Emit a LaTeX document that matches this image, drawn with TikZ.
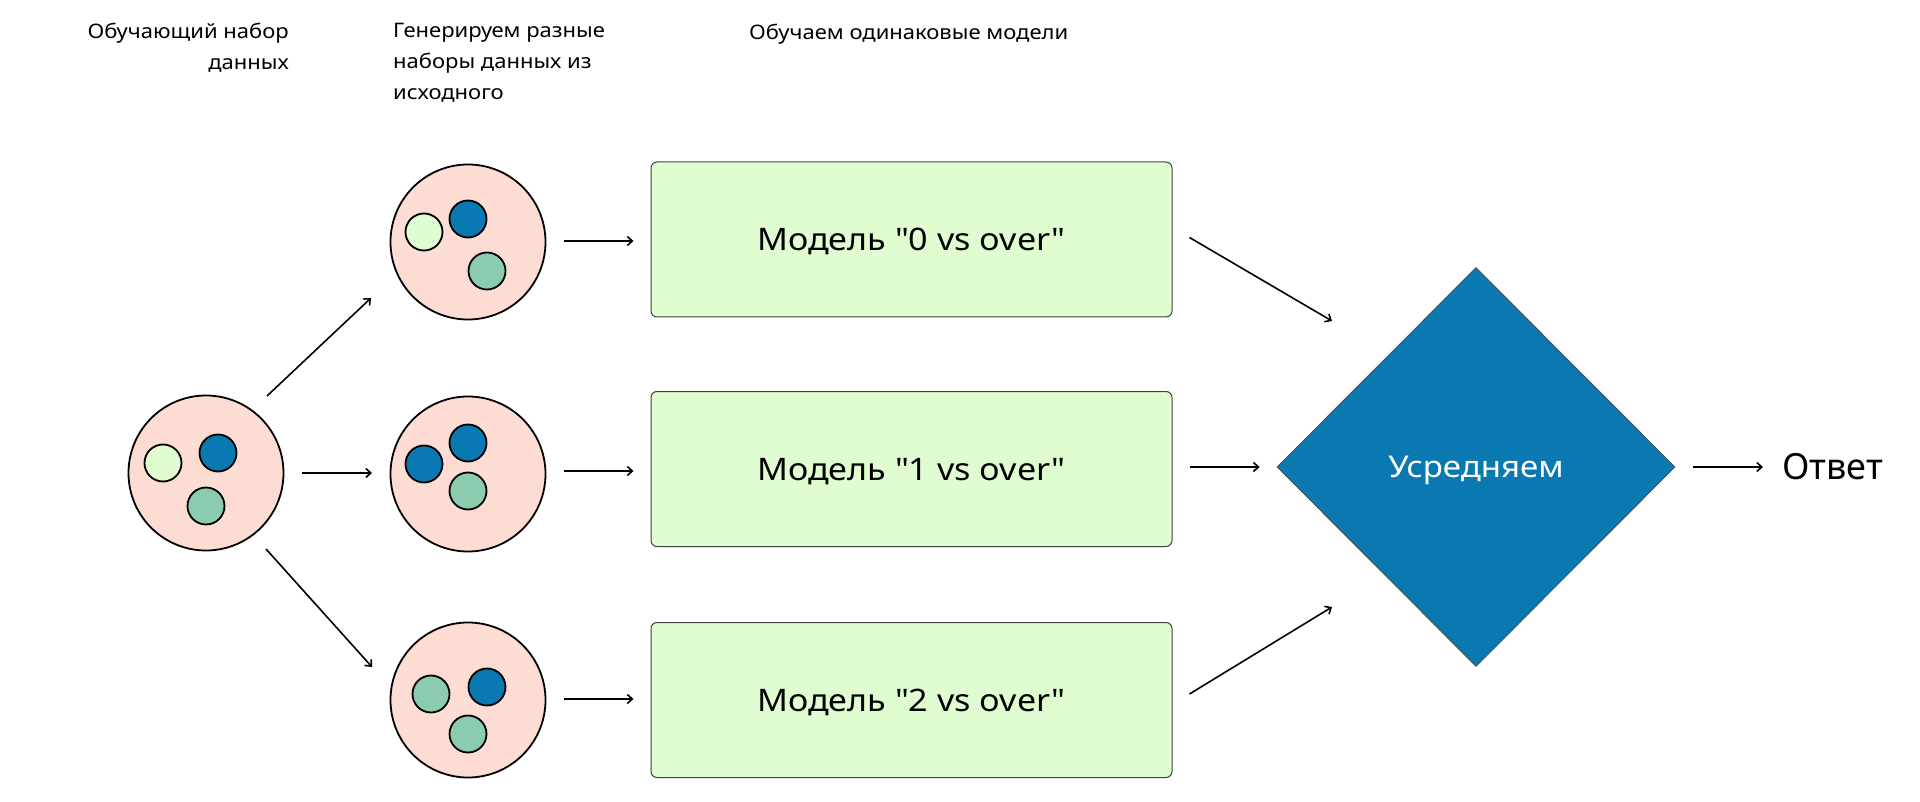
\documentclass[tikz,border=0pt]{standalone}
\usepackage{fontspec}
\setmainfont{Noto Sans}[Ligatures=TeXOff, FakeStretch=1.1]
\newfontfamily\plainfont{Noto Sans}[Ligatures=TeXOff]
\usetikzlibrary{shapes.geometric,arrows.meta}
\definecolor{pinkfill}{HTML}{FDDCD3}
\definecolor{lightdot}{HTML}{DFFDD1}
\definecolor{bluedot}{HTML}{0A79B1}
\definecolor{tealdot}{HTML}{8BCCB0}
\definecolor{boxgreen}{HTML}{DFFDD0}
\definecolor{diablue}{HTML}{0A79B1}
\tikzset{
  bigset/.style={circle, draw=black, line width=1.8pt, fill=pinkfill, minimum size=155pt, inner sep=0pt},
  dotL/.style={circle, draw=black, line width=1.8pt, fill=lightdot, minimum size=37pt, inner sep=0pt},
  dotB/.style={circle, draw=black, line width=1.8pt, fill=bluedot, minimum size=37pt, inner sep=0pt},
  dotT/.style={circle, draw=black, line width=1.8pt, fill=tealdot, minimum size=37pt, inner sep=0pt},
  modelbox/.style={rectangle, rounded corners=6pt, draw=black!75, line width=1pt, fill=boxgreen,
    minimum width=521pt, minimum height=155pt, inner sep=0pt, text depth=0pt,
    font=\fontsize{31}{37}\selectfont},
  avgbox/.style={diamond, draw=black!70, line width=0.8pt, fill=diablue, minimum width=398pt,
    minimum height=399pt, inner sep=0pt, text=white, text depth=0pt,
    font=\fontsize{30}{36}\selectfont},
  arr/.style={-{Straight Barb[length=5pt,width=9pt]}, line width=1.6pt},
  lbl/.style={inner sep=0pt, font=\fontsize{20}{31}\selectfont},
}
\begin{document}
\begin{tikzpicture}[x=1pt,y=-1pt]
\useasboundingbox (0,0) rectangle (1920,802);
\fill[white] (0,0) rectangle (1920,802);

% labels
\node[lbl, align=right, anchor=north east] (t1) at (289,23) {Обучающий набор\\данных};
\node[lbl, align=left, anchor=north west] (t2) at (393,23) {Генерируем разные\\наборы данных из\\исходного};
\node[lbl, anchor=north west] (t3) at (749,24) {Обучаем одинаковые модели};

% source set
\node[bigset] (L) at (206,473) {};
\node[dotL] (L1) at (163,463) {};
\node[dotB] (L2) at (218,453) {};
\node[dotT] (L3) at (206,506) {};

% generated sets
\node[bigset] (G1) at (468,242) {};
\node[dotL] (G11) at (424,232) {};
\node[dotB] (G12) at (468,219) {};
\node[dotT] (G13) at (487,271) {};

\node[bigset] (G2) at (468,474) {};
\node[dotB] (G21) at (424,464) {};
\node[dotB] (G22) at (468,443) {};
\node[dotT] (G23) at (468,491) {};

\node[bigset] (G3) at (468,700) {};
\node[dotT] (G31) at (431,694) {};
\node[dotB] (G32) at (487,687) {};
\node[dotT] (G33) at (468,734) {};

% models
\node[modelbox] (M1) at (911.5,239.5) {Модель "0 vs over"};
\node[modelbox] (M2) at (911.5,469) {Модель "1 vs over"};
\node[modelbox] (M3) at (911.5,700) {Модель "2 vs over"};

% averaging
\node[avgbox] (D) at (1476,467) {Усредняем};
\node[inner sep=0pt, anchor=west, font=\plainfont\fontsize{36}{42}\selectfont] (A) at (1782,467) {Ответ};

% connectors
\draw[arr] ([shift={(61,-77)}]L.center) -- ([shift={(-97,56)}]G1.center);
\draw[arr] ([shift={(96,0)}]L.center) -- ([shift={(-96,-1)}]G2.center);
\draw[arr] ([shift={(60,76)}]L.center) -- ([shift={(-96,-33)}]G3.center);

\draw[arr] ([shift={(96,-1)}]G1.center) -- ([shift={(-17,1.5)}]M1.west);
\draw[arr] ([shift={(96,-3)}]G2.center) -- ([shift={(-17,2)}]M2.west);
\draw[arr] ([shift={(96,-1)}]G3.center) -- ([shift={(-17,-1)}]M3.west);

\draw[arr] ([shift={(17,-2)}]M1.east) -- ([shift={(-144,-146)}]D.center);
\draw[arr] ([shift={(17,-2)}]M2.east) -- ([shift={(-17,0)}]D.west);
\draw[arr] ([shift={(17,-6)}]M3.east) -- ([shift={(-144,140)}]D.center);

\draw[arr] ([shift={(18,0)}]D.east) -- ([shift={(-19,0)}]A.west);
\end{tikzpicture}
\end{document}
